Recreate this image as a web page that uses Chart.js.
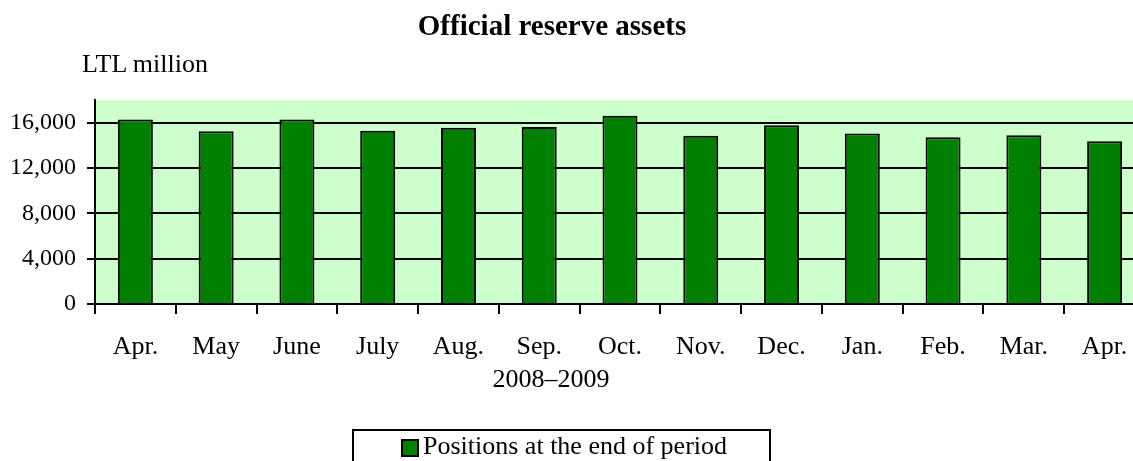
<!DOCTYPE html>
<html>
<head>
<meta charset="utf-8">
<script src="https://cdn.jsdelivr.net/npm/chart.js@4/dist/chart.umd.min.js"></script>
<style>
  html, body { margin: 0; padding: 0; width: 1133px; height: 461px; overflow: hidden; background: #fff; }
  body { position: relative; font-family: "Liberation Serif", "Times New Roman", serif; color: #000; }
  #chart { position: absolute; left: 0; top: 0; }
  .txt { position: absolute; white-space: nowrap; }
  #title { left: 0; width: 1104px; top: 11px; text-align: center; font-weight: bold; font-size: 29px; line-height: 29px; }
  #unit { left: 82px; top: 51px; font-size: 26px; line-height: 26px; }
  #period { left: 0; width: 1102px; top: 366px; text-align: center; font-size: 26px; line-height: 26px; }
  #legend { position: absolute; left: 352px; top: 429px; width: 415px; height: 40px; border: 2px solid #000; }
  #legend .box { position: absolute; left: 47px; top: 8px; width: 14px; height: 14px; background: #008000; border: 2px solid #000; }
  #legend .lbl { position: absolute; left: 69px; top: 2px; font-size: 26px; line-height: 26px; }
</style>
</head>
<body>
<canvas id="chart" width="1150" height="461"></canvas>
<div class="txt" id="title"></div>
<div class="txt" id="unit"></div>
<div class="txt" id="period"></div>
<div id="legend"><div class="box"></div><div class="txt lbl"></div></div>
<script>
// values (LTL million)
const months = ['Apr.', 'May', 'June', 'July', 'Aug.', 'Sep.', 'Oct.', 'Nov.', 'Dec.', 'Jan.', 'Feb.', 'Mar.', 'Apr.'];
const reserves = [16280, 15250, 16280, 15280, 15550, 15610, 16610, 14840, 15780, 15040, 14720, 14900, 14370];
const yTicks = [0, 4000, 8000, 12000, 16000];

const chartTitle = 'Official reserve assets';
const unitLabel = 'LTL million';
const periodLabel = '2008–2009';
const seriesLabel = 'Positions at the end of period';

document.getElementById('title').textContent = chartTitle;
document.getElementById('unit').textContent = unitLabel;
document.getElementById('period').textContent = periodLabel;
document.querySelector('#legend .lbl').textContent = seriesLabel;

// light green plot background
const plotBg = {
  id: 'plotBg',
  beforeDraw(chart) {
    const { ctx, chartArea: a } = chart;
    ctx.save();
    ctx.fillStyle = '#CCFFCC';
    ctx.fillRect(a.left, a.top, a.right - a.left, a.bottom - a.top);
    ctx.restore();
  }
};

new Chart(document.getElementById('chart'), {
  type: 'bar',
  data: {
    labels: months,
    datasets: [{
      label: seriesLabel,
      data: reserves,
      backgroundColor: '#008000',
      borderColor: '#000',
      borderWidth: 2,
      barPercentage: 0.433,
      categoryPercentage: 1
    }]
  },
  options: {
    responsive: false,
    animation: false,
    layout: { padding: { top: 100, left: 0, right: 5, bottom: 97 } },
    plugins: {
      legend: { display: false },
      title: { display: false },
      tooltip: { enabled: false }
    },
    scales: {
      x: {
        offset: true,
        grid: { offset: true, drawOnChartArea: false, color: '#000', lineWidth: 2, tickLength: 10 },
        border: { color: '#000', width: 2 },
        ticks: { color: '#000', padding: 18, maxRotation: 0, autoSkip: false, font: { family: 'Liberation Serif', size: 26 } },
        afterFit(scale) { scale.height = 60; }
      },
      y: {
        min: 0,
        max: 18000,
        afterBuildTicks(scale) {
          scale.ticks = yTicks.map(v => ({ value: v }));
        },
        grid: { color: '#000', lineWidth: 2, tickLength: 8 },
        border: { color: '#000', width: 2 },
        ticks: {
          color: '#000',
          padding: 11,
          font: { family: 'Liberation Serif', size: 24 },
          callback: v => v.toLocaleString('en-US')
        },
        afterFit(scale) { scale.width = 95; }
      }
    }
  },
  plugins: [plotBg]
});
</script>
</body>
</html>
